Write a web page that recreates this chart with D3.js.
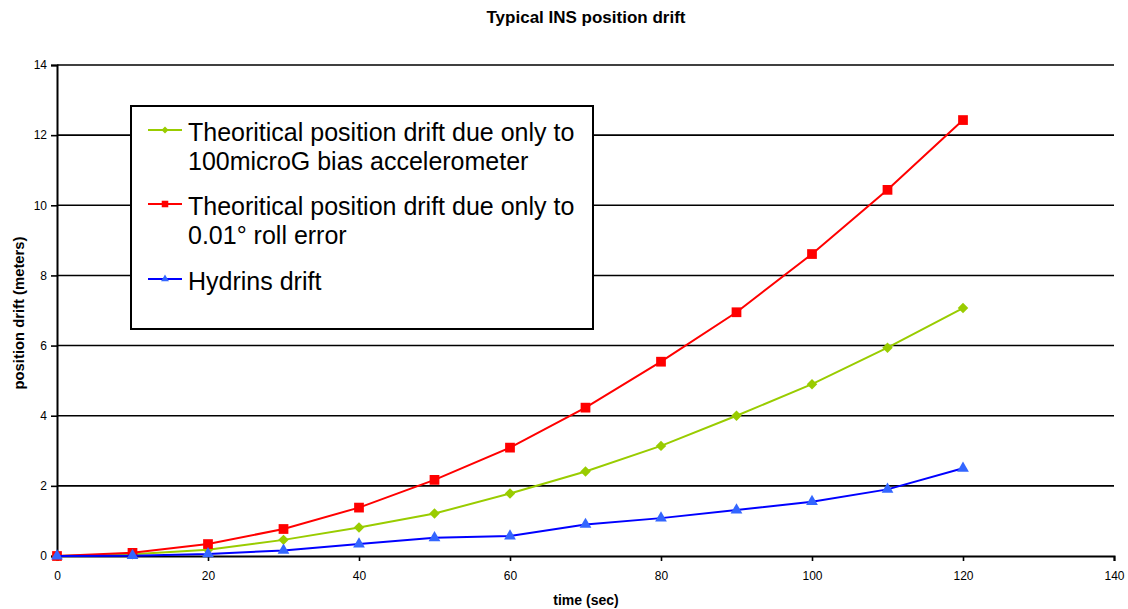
<!DOCTYPE html>
<html>
<head>
<meta charset="UTF-8">
<script src="https://d3js.org/d3.v7.min.js"></script>
<style>
    body { margin: 0; background: #fff; font-family: Arial, "Liberation Sans", sans-serif; }
    .tick text { font-size: 12px; fill: #000; font-family: Arial, "Liberation Sans", sans-serif; }
    .axis-title { font-weight: bold; }
</style>
</head>
<body>
<svg id="chart"></svg>
<script>
    const times = [0, 10, 20, 30, 40, 50, 60, 70, 80, 90, 100, 110, 120];
    const accelBias = [0, 0.05, 0.18, 0.46, 0.81, 1.21, 1.78, 2.41, 3.14, 4.0, 4.9, 5.94, 7.07];
    const rollError = [0, 0.09, 0.34, 0.77, 1.38, 2.17, 3.09, 4.23, 5.54, 6.95, 8.61, 10.44, 12.43];
    const hydrins = [0, 0.01, 0.06, 0.16, 0.34, 0.52, 0.57, 0.9, 1.08, 1.31, 1.55, 1.9, 2.5];
    const xTicks = [0, 20, 40, 60, 80, 100, 120, 140];
    const yTicks = [0, 2, 4, 6, 8, 10, 12, 14];

    const series = [
        { name: ["Theoritical position drift due only to", "100microG bias accelerometer"], values: accelBias, line: "#99cc00", fill: "#99cc00", shape: d3.symbolDiamond2, size: 70 },
        { name: ["Theoritical position drift due only to", "0.01° roll error"], values: rollError, line: "#ff0000", fill: "#ff0000", shape: d3.symbolSquare, size: 95 },
        { name: ["Hydrins drift"], values: hydrins, line: "#0000ff", fill: "#3366ff", shape: d3.symbolTriangle, size: 60 }
    ];

    const width = 1128, height = 609;
    const svg = d3.select("#chart").attr("width", width).attr("height", height);

    const x = d3.scaleLinear().domain([0, 140]).range([57, 1114]);
    const y = d3.scaleLinear().domain([0, 14]).range([556, 65]);

    // gridlines
    svg.append("g")
        .selectAll("line")
        .data(yTicks.filter(d => d > 0))
        .enter().append("line")
        .attr("x1", x(0)).attr("x2", x(140))
        .attr("y1", d => y(d)).attr("y2", d => y(d))
        .attr("stroke", "#000").attr("stroke-width", 1.6);

    const yAxis = svg.append("g")
        .attr("transform", `translate(${x(0)},0)`)
        .call(d3.axisLeft(y).tickValues(yTicks).tickSize(6).tickPadding(4));
    yAxis.select(".domain").attr("stroke-width", 2);
    yAxis.selectAll(".tick line").attr("stroke-width", 1.6);

    const xAxis = svg.append("g")
        .attr("transform", `translate(0,${y(0)})`)
        .call(d3.axisBottom(x).tickValues(xTicks).tickSize(5).tickPadding(10));
    xAxis.select(".domain").attr("stroke-width", 2);
    xAxis.selectAll(".tick line").attr("stroke-width", 1.6);

    svg.append("text")
        .attr("x", 586).attr("y", 23)
        .attr("text-anchor", "middle")
        .attr("class", "axis-title")
        .style("font-size", "17px")
        .text("Typical INS position drift");

    svg.append("text")
        .attr("x", 586).attr("y", 605)
        .attr("text-anchor", "middle")
        .attr("class", "axis-title")
        .style("font-size", "14px")
        .text("time (sec)");

    svg.append("text")
        .attr("transform", "translate(24,313) rotate(-90)")
        .attr("text-anchor", "middle")
        .attr("class", "axis-title")
        .style("font-size", "14.8px")
        .text("position drift (meters)");

    const line = d3.line().x((d, i) => x(times[i])).y(d => y(d));

    series.forEach(s => {
        svg.append("path")
            .datum(s.values)
            .attr("fill", "none")
            .attr("stroke", s.line)
            .attr("stroke-width", 2)
            .attr("d", line);
        svg.append("g")
            .selectAll("path")
            .data(s.values)
            .enter().append("path")
            .attr("transform", (d, i) => `translate(${x(times[i])},${y(d)})`)
            .attr("d", d3.symbol().type(s.shape).size(s.size))
            .attr("fill", s.fill);
    });

    // legend
    const legend = svg.append("g");
    legend.append("rect")
        .attr("x", 131).attr("y", 106)
        .attr("width", 462).attr("height", 223)
        .attr("fill", "#fff").attr("stroke", "#000").attr("stroke-width", 2);

    const entryY = [130, 204, 279];
    series.forEach((s, i) => {
        const g = legend.append("g").attr("transform", `translate(0,${entryY[i]})`);
        g.append("line").attr("x1", 148).attr("x2", 182).attr("y1", 0).attr("y2", 0)
            .attr("stroke", s.line).attr("stroke-width", 2);
        g.append("path").attr("transform", "translate(165,0)")
            .attr("d", d3.symbol().type(s.shape).size(s.size * 0.45))
            .attr("fill", s.fill);
        s.name.forEach((t, j) => {
            g.append("text")
                .attr("x", 188).attr("y", 11 + j * 29)
                .style("font-size", "25px")
                .text(t);
        });
    });
</script>
</body>
</html>
